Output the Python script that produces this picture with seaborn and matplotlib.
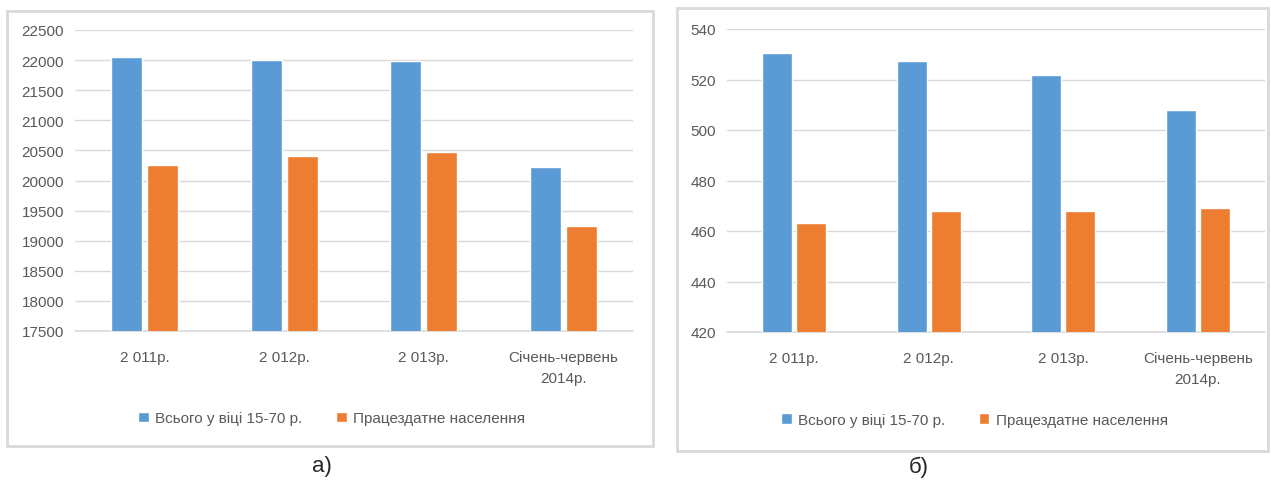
#!/usr/bin/env python3
import pandas as pd
import matplotlib
matplotlib.use("Agg")
import matplotlib.pyplot as plt
from matplotlib.patches import Rectangle
import seaborn as sns

# Data
categories = ["2 011р.", "2 012р.", "2 013р.", "Січень-червень\n2014р."]
series_names = ["Всього у віці 15-70 р.", "Працездатне населення"]
total_a = [22054, 22005, 21978, 20220]
able_a = [20258, 20401, 20478, 19245]
total_b = [530.3, 527.3, 521.6, 507.9]
able_b = [463.2, 467.9, 467.9, 469.0]
yticks_a = list(range(17500, 23000, 500))
yticks_b = list(range(420, 560, 20))
panel_labels = ["а)", "б)"]

colors = ["#5B9BD5", "#ED7D31"]
W, H = 1271, 481


def long_frame(total, able):
    rows = []
    for c, t, a in zip(categories, total, able):
        rows.append({"cat": c, "series": series_names[0], "value": t})
        rows.append({"cat": c, "series": series_names[1], "value": a})
    return pd.DataFrame(rows)


def draw(ax, df, yticks):
    sns.barplot(data=df, x="cat", y="value", hue="series", order=categories,
                hue_order=series_names, palette=colors, width=0.51, gap=0.13,
                saturation=1, ax=ax, zorder=3)
    ax.set_ylim(yticks[0], yticks[-1])
    ax.set_yticks(yticks)
    ax.set_xlim(-0.5, len(categories) - 0.5)
    ax.set_xlabel("")
    ax.set_ylabel("")
    ax.grid(axis="y", color="#D9D9D9", linewidth=1, zorder=0)
    ax.grid(axis="x", visible=False)
    # bottom line of the plot area
    ax.axhline(yticks[0], color="#D9D9D9", linewidth=1.2, clip_on=False, zorder=2)
    for s in ax.spines.values():
        s.set_visible(False)
    ax.tick_params(axis="both", length=0, labelsize=11, labelcolor="#595959")
    ax.tick_params(axis="x", pad=14)
    ax.tick_params(axis="y", pad=8)
    for lab in ax.get_xticklabels():
        lab.set_linespacing(1.6)
    ax.set_facecolor("white")
    leg = ax.legend(loc="center", bbox_to_anchor=(0.46, -0.29), ncol=2,
                    frameon=False, fontsize=11, handlelength=0.7,
                    handleheight=0.7, columnspacing=2.2, handletextpad=0.4)
    for t in leg.get_texts():
        t.set_color("#595959")


sns.set_style("white")
plt.rcParams["font.family"] = ["Liberation Sans", "DejaVu Sans"]

fig = plt.figure(figsize=(W / 100, H / 100), dpi=100)

# panel frames
fig.patches.append(Rectangle((7 / W, 1 - 447 / H), 646 / W, 435 / H,
                             transform=fig.transFigure, fill=False,
                             edgecolor="#D9D9D9", linewidth=2))
fig.patches.append(Rectangle((677 / W, 1 - 452 / H), 591 / W, 443 / H,
                             transform=fig.transFigure, fill=False,
                             edgecolor="#D9D9D9", linewidth=2))

ax1 = fig.add_axes([75 / W, 1 - 332 / H, 558 / W, 301 / H])
ax2 = fig.add_axes([727 / W, 1 - 333 / H, 538 / W, 303 / H])

draw(ax1, long_frame(total_a, able_a), yticks_a)
draw(ax2, long_frame(total_b, able_b), yticks_b)

fig.text(322 / W, 1 - 467 / H, panel_labels[0], ha="center", va="center",
         fontsize=16, family=["Liberation Sans", "DejaVu Sans"])
fig.text(919 / W, 1 - 467 / H, panel_labels[1], ha="center", va="center",
         fontsize=16, family=["Liberation Sans", "DejaVu Sans"])

fig.savefig("out.png", dpi=100)
